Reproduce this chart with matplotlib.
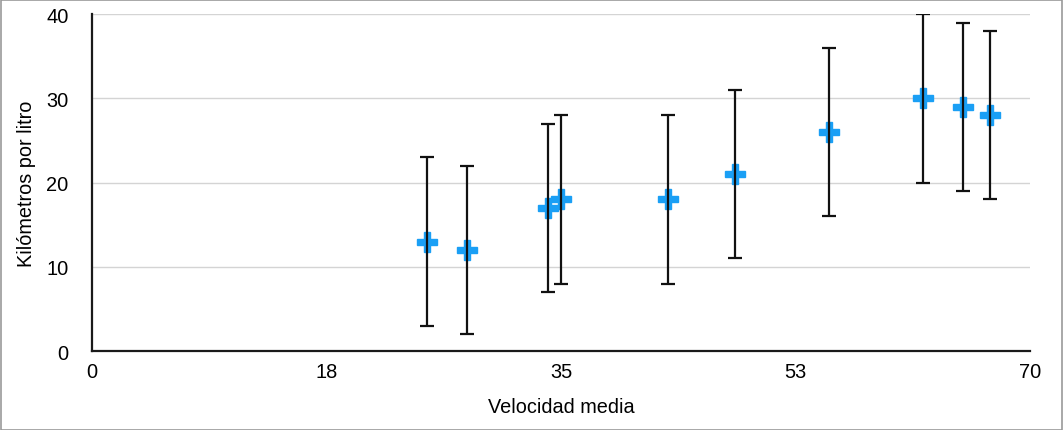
import matplotlib.pyplot as plt
from matplotlib.patches import Rectangle

velocidad = [25, 28, 34, 35, 43, 48, 55, 62, 65, 67]
km_litro = [13, 12, 17, 18, 18, 21, 26, 30, 29, 28]
error = [10, 10, 10, 10, 10, 10, 10, 10, 10, 10]
xticks = [0, 17.5, 35, 52.5, 70]
xtick_labels = ['0', '18', '35', '53', '70']
yticks = [0, 10, 20, 30, 40]

plt.rcParams['font.family'] = ['Liberation Sans', 'DejaVu Sans']

fig = plt.figure(figsize=(10.64, 4.31), dpi=100)
ax = fig.add_axes([0.0865, 0.183, 0.8815, 0.782])

ax.plot(velocidad, km_litro, 'P', color='#1A9FF5', markersize=14,
        markeredgewidth=1.0, markeredgecolor='#1A9FF5', zorder=2)
ax.errorbar(velocidad, km_litro, yerr=error, fmt='none', ecolor='#111111',
            elinewidth=1.6, capsize=4.8, capthick=1.6, zorder=3)

ax.set_xlim(0, 70)
ax.set_ylim(0, 40)
ax.set_xticks(xticks)
ax.set_xticklabels(xtick_labels)
ax.set_yticks(yticks)
ax.tick_params(length=0, labelsize=14.4)
ax.tick_params(axis='x', pad=8)
ax.tick_params(axis='y', pad=17)

ax.yaxis.grid(True, color='#d4d4d4', linewidth=1)
ax.set_axisbelow(True)
for s in ['top', 'right']:
    ax.spines[s].set_visible(False)
for s in ['left', 'bottom']:
    ax.spines[s].set_linewidth(1.6)
    ax.spines[s].set_color('#1a1a1a')

ax.set_xlabel('Velocidad media', fontsize=14.3, labelpad=11)
ax.set_ylabel('Kilómetros por litro', fontsize=14.3, labelpad=7)

fig.patches.append(Rectangle((0.0005, 0.001), 0.998, 0.997, transform=fig.transFigure,
                             fill=False, edgecolor='#999999', linewidth=1.2))

fig.savefig('out.png', dpi=100)
